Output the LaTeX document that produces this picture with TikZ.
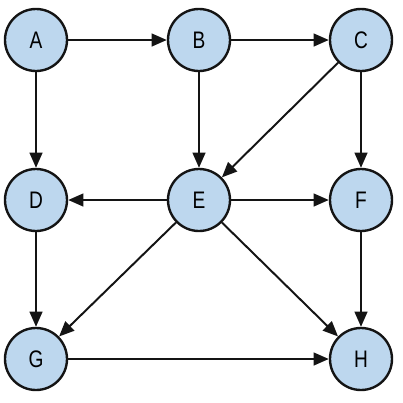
\documentclass[tikz,border=0pt]{standalone}
\usepackage{fontspec}
\setmainfont[FakeStretch=0.8]{Liberation Sans}
\usetikzlibrary{arrows.meta,positioning}
\definecolor{vertexfill}{HTML}{BDD7EE}
\definecolor{vertexink}{HTML}{141414}

\begin{document}
\begin{tikzpicture}[x=.025cm,y=-.025cm,font=\fontsize{17}{20}\selectfont,
    vertex/.style={circle,draw=vertexink,fill=vertexfill,line width=1.7pt,minimum size=1.55cm,inner sep=0pt},
    edge/.style={-{Triangle[length=3.8mm,width=3.2mm]},line width=1.4pt,draw=vertexink}]
        \useasboundingbox (0,0) rectangle (403,403);
        \node[vertex] (A) at (36,40) {A};
        \node[vertex] (B) at (199,40) {B};
        \node[vertex] (C) at (361,40) {C};
        \node[vertex] (D) at (36,200) {D};
        \node[vertex] (E) at (199,200) {E};
        \node[vertex] (F) at (361,200) {F};
        \node[vertex] (G) at (36,359) {G};
        \node[vertex] (H) at (361,359) {H};

        \foreach \from/\to in {A/B,B/C,A/D,B/E,C/E,C/F,E/D,E/F,E/G,E/H,D/G,F/H,G/H}
          \draw[edge] (\from) -- (\to);
      \end{tikzpicture}
\end{document}
